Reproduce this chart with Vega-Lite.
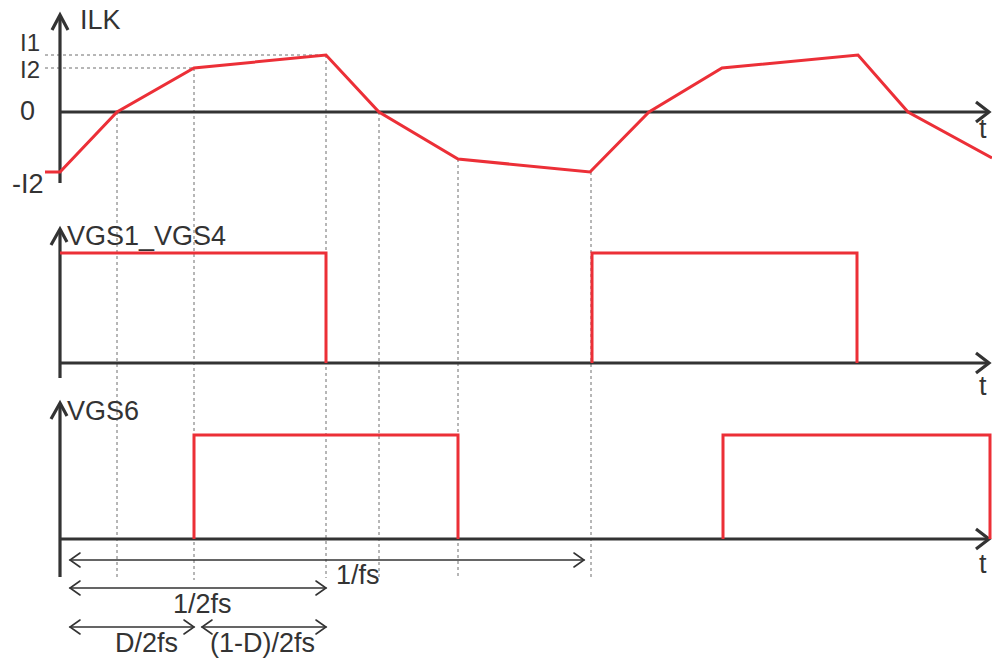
{
  "$schema": "https://vega.github.io/schema/vega-lite/v6.json",
  "width": 992,
  "height": 659,
  "autosize": {"type": "none"},
  "padding": 0,
  "background": "white",
  "config": {"view": {"stroke": null}},
  "datasets": {
    "guides": [
      {"x": 45, "y": 55, "x2": 326, "y2": 55},
      {"x": 45, "y": 68, "x2": 194, "y2": 68},
      {"x": 117, "y": 112, "x2": 117, "y2": 578},
      {"x": 194, "y": 68, "x2": 194, "y2": 580},
      {"x": 326, "y": 55, "x2": 326, "y2": 578},
      {"x": 379, "y": 112, "x2": 379, "y2": 578},
      {"x": 458, "y": 159, "x2": 458, "y2": 578},
      {"x": 591, "y": 172, "x2": 591, "y2": 578}
    ],
    "dims": [
      {"id": "D1", "k": 0, "x": 70, "y": 560}, {"id": "D1", "k": 1, "x": 584, "y": 560},
      {"id": "D1a", "k": 0, "x": 80, "y": 553}, {"id": "D1a", "k": 1, "x": 70, "y": 560}, {"id": "D1a", "k": 2, "x": 80, "y": 567},
      {"id": "D1b", "k": 0, "x": 574, "y": 553}, {"id": "D1b", "k": 1, "x": 584, "y": 560}, {"id": "D1b", "k": 2, "x": 574, "y": 567},
      {"id": "D2", "k": 0, "x": 70, "y": 588}, {"id": "D2", "k": 1, "x": 326, "y": 588},
      {"id": "D2a", "k": 0, "x": 80, "y": 581}, {"id": "D2a", "k": 1, "x": 70, "y": 588}, {"id": "D2a", "k": 2, "x": 80, "y": 595},
      {"id": "D2b", "k": 0, "x": 316, "y": 581}, {"id": "D2b", "k": 1, "x": 326, "y": 588}, {"id": "D2b", "k": 2, "x": 316, "y": 595},
      {"id": "D3", "k": 0, "x": 70, "y": 627}, {"id": "D3", "k": 1, "x": 194, "y": 627},
      {"id": "D3a", "k": 0, "x": 80, "y": 620}, {"id": "D3a", "k": 1, "x": 70, "y": 627}, {"id": "D3a", "k": 2, "x": 80, "y": 634},
      {"id": "D3b", "k": 0, "x": 184, "y": 620}, {"id": "D3b", "k": 1, "x": 194, "y": 627}, {"id": "D3b", "k": 2, "x": 184, "y": 634},
      {"id": "D4", "k": 0, "x": 202, "y": 627}, {"id": "D4", "k": 1, "x": 326, "y": 627},
      {"id": "D4a", "k": 0, "x": 212, "y": 620}, {"id": "D4a", "k": 1, "x": 202, "y": 627}, {"id": "D4a", "k": 2, "x": 212, "y": 634},
      {"id": "D4b", "k": 0, "x": 316, "y": 620}, {"id": "D4b", "k": 1, "x": 326, "y": 627}, {"id": "D4b", "k": 2, "x": 316, "y": 634}
    ],
    "axes": [
      {"id": "A1v", "k": 0, "x": 60, "y": 183}, {"id": "A1v", "k": 1, "x": 60, "y": 16},
      {"id": "A1h", "k": 0, "x": 59, "y": 112}, {"id": "A1h", "k": 1, "x": 988, "y": 112},
      {"id": "H1", "k": 0, "x": 52, "y": 30}, {"id": "H1", "k": 1, "x": 60, "y": 15}, {"id": "H1", "k": 2, "x": 68, "y": 30},
      {"id": "R1", "k": 0, "x": 976, "y": 102}, {"id": "R1", "k": 1, "x": 989, "y": 112}, {"id": "R1", "k": 2, "x": 976, "y": 122},
      {"id": "A2v", "k": 0, "x": 60, "y": 378}, {"id": "A2v", "k": 1, "x": 60, "y": 230},
      {"id": "A2h", "k": 0, "x": 59, "y": 363}, {"id": "A2h", "k": 1, "x": 988, "y": 363},
      {"id": "H2", "k": 0, "x": 51, "y": 245}, {"id": "H2", "k": 1, "x": 60, "y": 229}, {"id": "H2", "k": 2, "x": 67, "y": 242},
      {"id": "R2", "k": 0, "x": 976, "y": 353}, {"id": "R2", "k": 1, "x": 989, "y": 363}, {"id": "R2", "k": 2, "x": 976, "y": 373},
      {"id": "A3v", "k": 0, "x": 60, "y": 577}, {"id": "A3v", "k": 1, "x": 60, "y": 404},
      {"id": "A3h", "k": 0, "x": 59, "y": 539}, {"id": "A3h", "k": 1, "x": 988, "y": 539},
      {"id": "H3", "k": 0, "x": 51, "y": 419}, {"id": "H3", "k": 1, "x": 60, "y": 403}, {"id": "H3", "k": 2, "x": 67, "y": 416},
      {"id": "R3", "k": 0, "x": 976, "y": 529}, {"id": "R3", "k": 1, "x": 989, "y": 539}, {"id": "R3", "k": 2, "x": 976, "y": 549}
    ],
    "waves": [
      {"id": "ILK", "k": 0, "x": 45, "y": 172}, {"id": "ILK", "k": 1, "x": 60, "y": 172},
      {"id": "ILK", "k": 2, "x": 117, "y": 112}, {"id": "ILK", "k": 3, "x": 194, "y": 68},
      {"id": "ILK", "k": 4, "x": 326, "y": 55}, {"id": "ILK", "k": 5, "x": 379, "y": 112},
      {"id": "ILK", "k": 6, "x": 458, "y": 159}, {"id": "ILK", "k": 7, "x": 590, "y": 172},
      {"id": "ILK", "k": 8, "x": 649, "y": 112}, {"id": "ILK", "k": 9, "x": 722, "y": 68},
      {"id": "ILK", "k": 10, "x": 858, "y": 55}, {"id": "ILK", "k": 11, "x": 908, "y": 112},
      {"id": "ILK", "k": 12, "x": 992, "y": 158},
      {"id": "V14a", "k": 0, "x": 60, "y": 253}, {"id": "V14a", "k": 1, "x": 326, "y": 253}, {"id": "V14a", "k": 2, "x": 326, "y": 363},
      {"id": "V14b", "k": 0, "x": 592, "y": 363}, {"id": "V14b", "k": 1, "x": 592, "y": 253}, {"id": "V14b", "k": 2, "x": 857, "y": 253}, {"id": "V14b", "k": 3, "x": 857, "y": 363},
      {"id": "V6a", "k": 0, "x": 194, "y": 539}, {"id": "V6a", "k": 1, "x": 194, "y": 435}, {"id": "V6a", "k": 2, "x": 458, "y": 435}, {"id": "V6a", "k": 3, "x": 458, "y": 539},
      {"id": "V6b", "k": 0, "x": 723, "y": 539}, {"id": "V6b", "k": 1, "x": 723, "y": 435}, {"id": "V6b", "k": 2, "x": 990, "y": 435}, {"id": "V6b", "k": 3, "x": 990, "y": 539}
    ],
    "levels": [
      {"text": "I1", "x": 20, "y": 51},
      {"text": "I2", "x": 20, "y": 78}
    ],
    "labels": [
      {"text": "ILK", "x": 80, "y": 29},
      {"text": "0", "x": 20, "y": 120},
      {"text": "-I2", "x": 12, "y": 193},
      {"text": "t", "x": 979, "y": 138},
      {"text": "VGS1_VGS4", "x": 67, "y": 245},
      {"text": "t", "x": 979, "y": 395},
      {"text": "VGS6", "x": 67, "y": 420},
      {"text": "t", "x": 979, "y": 573},
      {"text": "1/fs", "x": 336, "y": 584},
      {"text": "1/2fs", "x": 173, "y": 613},
      {"text": "D/2fs", "x": 115, "y": 652},
      {"text": "(1-D)/2fs", "x": 210, "y": 652}
    ]
  },
  "layer": [
    {
      "data": {"name": "guides"},
      "mark": {"type": "rule", "color": "#6e6e6e", "strokeWidth": 1, "strokeDash": [3, 3]},
      "encoding": {
        "x": {"field": "x", "type": "quantitative", "scale": {"domain": [0, 992], "nice": false, "zero": false}, "axis": null},
        "y": {"field": "y", "type": "quantitative", "scale": {"domain": [659, 0], "nice": false, "zero": false}, "axis": null},
        "x2": {"field": "x2"},
        "y2": {"field": "y2"}
      }
    },
    {
      "data": {"name": "dims"},
      "mark": {"type": "line", "color": "#333333", "strokeWidth": 1.6, "strokeCap": "round", "strokeJoin": "miter"},
      "encoding": {
        "x": {"field": "x", "type": "quantitative"},
        "y": {"field": "y", "type": "quantitative"},
        "detail": {"field": "id"},
        "order": {"field": "k", "type": "quantitative"}
      }
    },
    {
      "data": {"name": "axes"},
      "mark": {"type": "line", "color": "#333333", "strokeWidth": 3.2, "strokeCap": "butt", "strokeJoin": "miter"},
      "encoding": {
        "x": {"field": "x", "type": "quantitative"},
        "y": {"field": "y", "type": "quantitative"},
        "detail": {"field": "id"},
        "order": {"field": "k", "type": "quantitative"}
      }
    },
    {
      "data": {"name": "waves"},
      "mark": {"type": "line", "color": "#ec2f37", "strokeWidth": 3, "strokeJoin": "miter"},
      "encoding": {
        "x": {"field": "x", "type": "quantitative"},
        "y": {"field": "y", "type": "quantitative"},
        "detail": {"field": "id"},
        "order": {"field": "k", "type": "quantitative"}
      }
    },
    {
      "data": {"name": "levels"},
      "mark": {"type": "text", "font": "Liberation Sans", "fontSize": 24, "color": "#333333", "align": "left", "baseline": "alphabetic"},
      "encoding": {
        "x": {"field": "x", "type": "quantitative"},
        "y": {"field": "y", "type": "quantitative"},
        "text": {"field": "text"}
      }
    },
    {
      "data": {"name": "labels"},
      "mark": {"type": "text", "font": "Liberation Sans", "fontSize": 27, "color": "#333333", "align": "left", "baseline": "alphabetic"},
      "encoding": {
        "x": {"field": "x", "type": "quantitative"},
        "y": {"field": "y", "type": "quantitative"},
        "text": {"field": "text"}
      }
    }
  ]
}
